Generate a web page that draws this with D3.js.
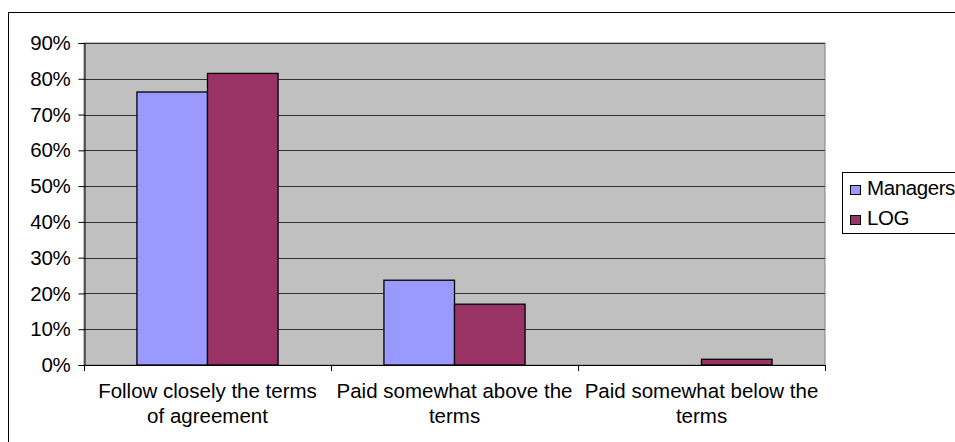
<!DOCTYPE html>
<html><head><meta charset="utf-8">
<script src="https://cdn.jsdelivr.net/npm/d3@7"></script>
<style>
html,body{margin:0;padding:0;background:#fff;}
svg{display:block;font-family:"Liberation Sans",Arial,sans-serif;}
</style></head>
<body>
<svg id="chart" width="955" height="442"></svg>
<script>
const categories = [["Follow closely the terms", "of agreement"], ["Paid somewhat above the", "terms"], ["Paid somewhat below the", "terms"]];
const seriesNames = ["Managers", "LOG"];
const managers = [0.763, 0.237, 0];
const logValues = [0.815, 0.170, 0.016];
const yTicks = [0, 0.1, 0.2, 0.3, 0.4, 0.5, 0.6, 0.7, 0.8, 0.9];
const colors = ["#9999FF", "#993366"];

(function() {
const svg = d3.select("#chart");
const fontSize = 20.5;
const pLeft = 84, pRight = 825, pTop = 43, pBottom = 365;

// outer border
svg.append("rect").attr("x", 8.5).attr("y", 12.5).attr("width", 960).attr("height", 440)
  .attr("fill", "#fff").attr("stroke", "#000").attr("stroke-width", 1);

const x0 = d3.scaleBand().domain(d3.range(categories.length)).range([pLeft, pRight]).paddingInner(0).paddingOuter(0);
const bw = x0.bandwidth() / 3.5;
const off = x0.bandwidth() * 0.75 / 3.5;
const x1 = d3.scaleBand().domain(seriesNames).range([off, off + 2 * bw]);
const y = d3.scaleLinear().domain([0, 0.9]).range([pBottom, pTop]);

// plot background
svg.append("rect").attr("x", pLeft).attr("y", pTop).attr("width", pRight - pLeft).attr("height", pBottom - pTop)
  .attr("fill", "#C0C0C0").attr("stroke", "#808080").attr("stroke-width", 1);

// gridlines
svg.append("g").selectAll("line").data(yTicks.filter(d => d > 0)).join("line")
  .attr("x1", pLeft).attr("x2", pRight)
  .attr("y1", d => Math.round(y(d)) + 0.5).attr("y2", d => Math.round(y(d)) + 0.5)
  .attr("stroke", "#333").attr("stroke-width", 1);

// bars
const data = categories.map((c, i) => ({i, vals: [managers[i], logValues[i]]}));
const g = svg.append("g").selectAll("g").data(data).join("g")
  .attr("transform", d => `translate(${x0(d.i)},0)`);
g.selectAll("rect").data(d => d.vals.map((v, k) => ({k, v})).filter(e => e.v > 0)).join("rect")
  .attr("x", d => x1(seriesNames[d.k]))
  .attr("width", bw)
  .attr("y", d => y(d.v))
  .attr("height", d => y(0) - y(d.v))
  .attr("fill", d => colors[d.k]).attr("stroke", "#000").attr("stroke-width", 1.3);

// y axis
const yAxis = d3.axisLeft(y).tickValues(yTicks).tickFormat(d3.format(".0%")).tickSize(6).tickPadding(8);
const ya = svg.append("g").attr("transform", `translate(${pLeft + 0.5},0)`).call(yAxis);
ya.select(".domain").attr("stroke", "#000");
ya.selectAll(".tick line").attr("stroke", "#000");
ya.selectAll(".tick text").attr("font-size", fontSize).attr("fill", "#000").attr("font-family", "Liberation Sans, Arial, sans-serif").attr("letter-spacing", "-0.3px");

// x axis line and ticks
const xa = svg.append("g");
xa.append("line").attr("x1", pLeft).attr("x2", pRight).attr("y1", pBottom + 0.5).attr("y2", pBottom + 0.5).attr("stroke", "#000");
xa.selectAll("line.t").data(d3.range(categories.length + 1)).join("line").attr("class", "t")
  .attr("x1", d => Math.round(pLeft + d * x0.bandwidth()) + 0.5).attr("x2", d => Math.round(pLeft + d * x0.bandwidth()) + 0.5)
  .attr("y1", pBottom).attr("y2", pBottom + 6).attr("stroke", "#000");
xa.selectAll("text").data(data).join("text")
  .attr("text-anchor", "middle").attr("font-size", fontSize).attr("letter-spacing", "0px")
  .attr("x", d => x0(d.i) + x0.bandwidth() / 2)
  .attr("y", 398)
  .each(function(d) {
    const t = d3.select(this);
    categories[d.i].forEach((line, li) => {
      t.append("tspan").attr("x", x0(d.i) + x0.bandwidth() / 2).attr("dy", li === 0 ? 0 : 24.5).text(line);
    });
  });

// legend
const lg = svg.append("g");
lg.append("rect").attr("x", 842.5).attr("y", 172.5).attr("width", 130).attr("height", 61)
  .attr("fill", "#fff").attr("stroke", "#000");
seriesNames.forEach((s, k) => {
  const yy = 185 + k * 30;
  lg.append("rect").attr("x", 850.5).attr("y", yy + 0.5).attr("width", 10).attr("height", 9)
    .attr("fill", colors[k]).attr("stroke", "#000");
  lg.append("text").attr("x", 867).attr("y", yy + 9.5).attr("font-size", fontSize).attr("letter-spacing", "-0.4px").text(s);
});
})();
</script>
</body></html>
